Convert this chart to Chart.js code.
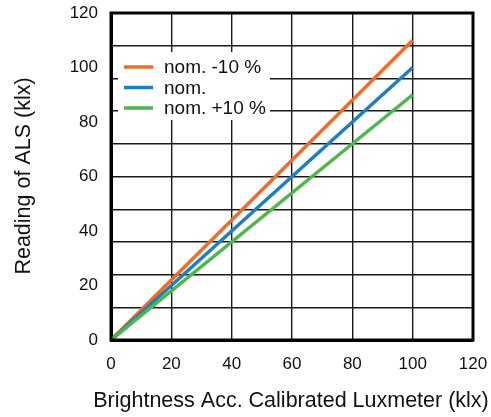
<!DOCTYPE html>
<html>
<head>
<meta charset="utf-8">
<script src="https://cdn.jsdelivr.net/npm/chart.js@4.4.0/dist/chart.umd.min.js"></script>
<style>
  html, body { margin: 0; padding: 0; background: #fff; }
  #wrap { width: 491px; height: 417px; position: relative; }
</style>
</head>
<body>
<div id="wrap"><canvas id="chartALS"></canvas></div>
<script>
// ── data ─────────────────────────────────────────────
const luxmeter = [0, 100];
const readMinus10 = [0, 110];
const readNom = [0, 100];
const readPlus10 = [0, 90];
const seriesLabels = ['nom. -10 %', 'nom.', 'nom. +10 %'];
const seriesColors = ['#f26c23', '#1b7fc6', '#4cb84a'];
const xTitle = 'Brightness Acc. Calibrated Luxmeter (klx)';
const yTitle = 'Reading of ALS (klx)';
const yLabelStep = 20;   // labelled every 20
const yGridStep = 12;    // horizontal grid every 12 (10 divisions)

const FONT = "'Liberation Sans', Arial, Helvetica, sans-serif";
Chart.defaults.font.family = FONT;
Chart.defaults.color = '#111';

const pts = (ys) => luxmeter.map((x, i) => ({ x: x, y: ys[i] }));

// legend inside the plot, white box over the grid
const boxLegend = {
  id: 'boxLegend',
  beforeDatasetsDraw(chart) {
    const { ctx, chartArea: a } = chart;
    ctx.save();
    ctx.fillStyle = '#fff';
    ctx.fillRect(a.left + 7, 52, 152, 68);
    ctx.font = '19px ' + FONT;
    ctx.textBaseline = 'middle';
    seriesLabels.forEach((lab, i) => {
      const y = 67 + i * 20.5;
      ctx.strokeStyle = seriesColors[i];
      ctx.lineWidth = 3.5;
      ctx.beginPath();
      ctx.moveTo(124, y);
      ctx.lineTo(153, y);
      ctx.stroke();
      ctx.fillStyle = '#111';
      ctx.fillText(lab, 164, y + 1);
    });
    ctx.restore();
  }
};

// full black frame round the plot + axis titles (no width squeeze)
const frame = {
  id: 'frame',
  afterDraw(chart) {
    const { ctx, chartArea: a } = chart;
    ctx.save();
    ctx.strokeStyle = '#000';
    ctx.lineWidth = 3;
    ctx.strokeRect(a.left, a.top, a.right - a.left, a.bottom - a.top);
    ctx.fillStyle = '#111';
    ctx.font = '21.5px ' + FONT;
    ctx.textAlign = 'center';
    ctx.textBaseline = 'middle';
    ctx.fillText(xTitle, 291, 401);
    ctx.translate(24, 176);
    ctx.rotate(-Math.PI / 2);
    ctx.fillText(yTitle, 0, 0);
    ctx.restore();
  }
};

new Chart(document.getElementById('chartALS'), {
  type: 'scatter',
  data: {
    datasets: [
      { label: seriesLabels[2], data: pts(readPlus10), borderColor: seriesColors[2] },
      { label: seriesLabels[1], data: pts(readNom), borderColor: seriesColors[1] },
      { label: seriesLabels[0], data: pts(readMinus10), borderColor: seriesColors[0] }
    ].map(d => Object.assign(d, { showLine: true, borderWidth: 3.5, pointRadius: 0, fill: false }))
  },
  options: {
    responsive: true,
    maintainAspectRatio: false,
    animation: false,
    layout: { padding: { top: 13, right: 18, left: 0, bottom: 0 } },
    scales: {
      x: {
        type: 'linear',
        min: 0, max: 120,
        ticks: { stepSize: 20, padding: 14, font: { size: 17 }, color: '#111' },
        grid: { color: '#1a1a1a', lineWidth: 1.4, drawTicks: false },
        border: { color: '#000', width: 3 },
        afterFit: (s) => { s.height = 77; s.paddingLeft = 0; s.paddingRight = 0; }
      },
      y: {
        min: 0, max: 120,
        ticks: { stepSize: 4, autoSkip: false, padding: 13, font: { size: 17 }, color: '#111',
                 callback: (v) => (v % yLabelStep === 0 ? v : '') },
        grid: {
          color: (c) => (c.tick && c.tick.value % yGridStep === 0 ? '#1a1a1a' : 'rgba(0,0,0,0)'),
          lineWidth: 1.4,
          drawTicks: false
        },
        border: { color: '#000', width: 3 },
        afterFit: (s) => { s.width = 111; s.paddingTop = 0; s.paddingBottom = 0; }
      }
    },
    plugins: {
      legend: { display: false },
      tooltip: { enabled: false }
    }
  },
  plugins: [boxLegend, frame]
});
</script>
</body>
</html>
